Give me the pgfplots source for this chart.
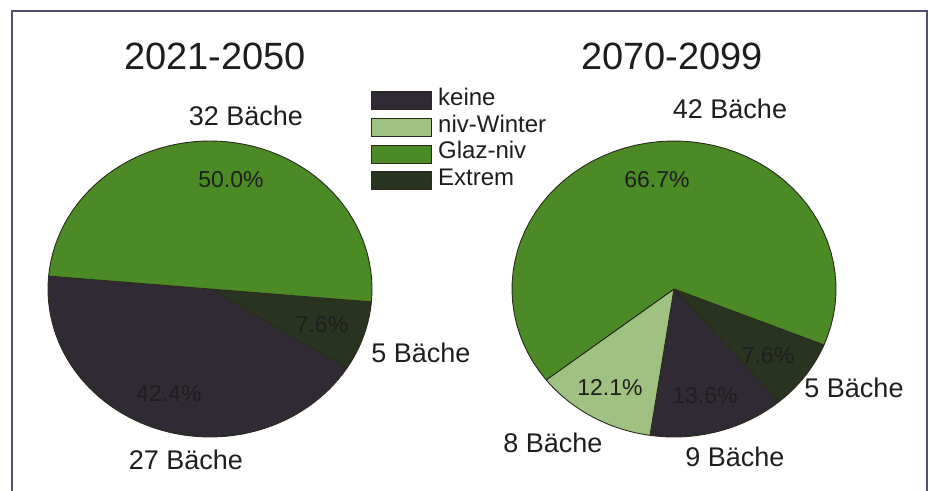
\documentclass[border=0pt]{standalone}
\usepackage{pgfplots}
\pgfplotsset{compat=1.18}
\usepackage{fontspec}
\setmainfont{Liberation Sans}
\definecolor{keine}{HTML}{2F2A33}
\definecolor{nivw}{HTML}{9FC283}
\definecolor{glaz}{HTML}{4B8A25}
\definecolor{extrem}{HTML}{283320}
\definecolor{edge}{HTML}{2A2A1E}
\definecolor{frame}{HTML}{50506E}
\definecolor{txt}{HTML}{1E1E1E}
% one pie slice: fill colour, centre x, centre y, from angle, to angle
\newcommand{\pieslice}[5]{%
  \addplot[forget plot, fill=#1, draw=edge, line width=0.45pt, line join=round,
    domain={#4}:{#5}, samples=60, variable=\t]
    ({#2+162*cos(t)},{#3+148*sin(t)}) -- (axis cs:#2,#3) -- cycle;}
\begin{document}
\begin{tikzpicture}
\begin{axis}[
  width=465.5pt, height=245.5pt, scale only axis,
  xmin=0, xmax=931, ymin=0, ymax=491,
  hide axis, clip=false,
  legend image code/.code={\draw[#1, line width=0.4pt] (0pt,-4.5pt) rectangle (30pt,4.5pt);},
  legend style={at={(axis cs:365,408)}, anchor=north west, draw=none, fill=none,
    font=\fontsize{12}{12}\selectfont, text=txt, column sep=3pt, row sep=0pt,
    nodes={inner sep=0pt, text height=9pt, text depth=4.35pt}},
  legend cell align=left,
]
\addlegendimage{fill=keine, draw=edge}
\addlegendentry{keine}
\addlegendimage{fill=nivw, draw=edge}
\addlegendentry{niv-Winter}
\addlegendimage{fill=glaz, draw=edge}
\addlegendentry{Glaz-niv}
\addlegendimage{fill=extrem, draw=edge}
\addlegendentry{Extrem}

% 2021-2050 (percent shares, clockwise from -5 deg): Extrem 7.6, keine 42.4, Glaz-niv 50.0
\pieslice{extrem}{210}{202}{-5-3.6*7.6}{-5}
\pieslice{keine}{210}{202}{-5-3.6*50.0}{-5-3.6*7.6}
\pieslice{glaz}{210}{202}{-5-3.6*100}{-5-3.6*50.0}
% 2070-2099 (clockwise from -22.2 deg): Extrem 7.6, keine 13.6, niv-Winter 12.1, Glaz-niv 66.7
\pieslice{extrem}{674}{202}{-22.2-3.6*7.6}{-22.2}
\pieslice{keine}{674}{202}{-22.2-3.6*21.2}{-22.2-3.6*7.6}
\pieslice{nivw}{674}{202}{-22.2-3.6*33.3}{-22.2-3.6*21.2}
\pieslice{glaz}{674}{202}{-22.2-3.6*100}{-22.2-3.6*33.3}

% frame
\draw[frame, line width=1pt] (axis cs:12,0) -- (axis cs:12,480) -- (axis cs:927,480) -- (axis cs:927,0);

\begin{scope}[every node/.style={text=txt}]
% titles
\node[font=\fontsize{19}{22}\selectfont] at (axis cs:215,435) {2021-2050};
\node[font=\fontsize{19}{22}\selectfont] at (axis cs:672,435) {2070-2099};
% count labels
\node[font=\fontsize{13.5}{15}\selectfont] at (axis cs:246,375) {32 Bäche};
\node[font=\fontsize{13.5}{15}\selectfont] at (axis cs:186,31) {27 Bäche};
\node[font=\fontsize{13.5}{15}\selectfont] at (axis cs:421,138) {5 Bäche};
\node[font=\fontsize{13.5}{15}\selectfont] at (axis cs:730,382) {42 Bäche};
\node[font=\fontsize{13.5}{15}\selectfont] at (axis cs:854,103) {5 Bäche};
\node[font=\fontsize{13.5}{15}\selectfont] at (axis cs:553,48) {8 Bäche};
\node[font=\fontsize{13.5}{15}\selectfont] at (axis cs:735,34) {9 Bäche};
% percent labels
\node[font=\fontsize{11.5}{13}\selectfont] at (axis cs:231,311) {50.0\%};
\node[font=\fontsize{11.5}{13}\selectfont] at (axis cs:322,166) {7.6\%};
\node[font=\fontsize{11.5}{13}\selectfont] at (axis cs:169,97) {42.4\%};
\node[font=\fontsize{11.5}{13}\selectfont] at (axis cs:657,311) {66.7\%};
\node[font=\fontsize{11.5}{13}\selectfont] at (axis cs:768,135) {7.6\%};
\node[font=\fontsize{11.5}{13}\selectfont] at (axis cs:610,103) {12.1\%};
\node[font=\fontsize{11.5}{13}\selectfont] at (axis cs:705,95) {13.6\%};
\end{scope}
\end{axis}
\pgfresetboundingbox
\path (current axis.south west) rectangle (current axis.north east);
\end{tikzpicture}
\end{document}
